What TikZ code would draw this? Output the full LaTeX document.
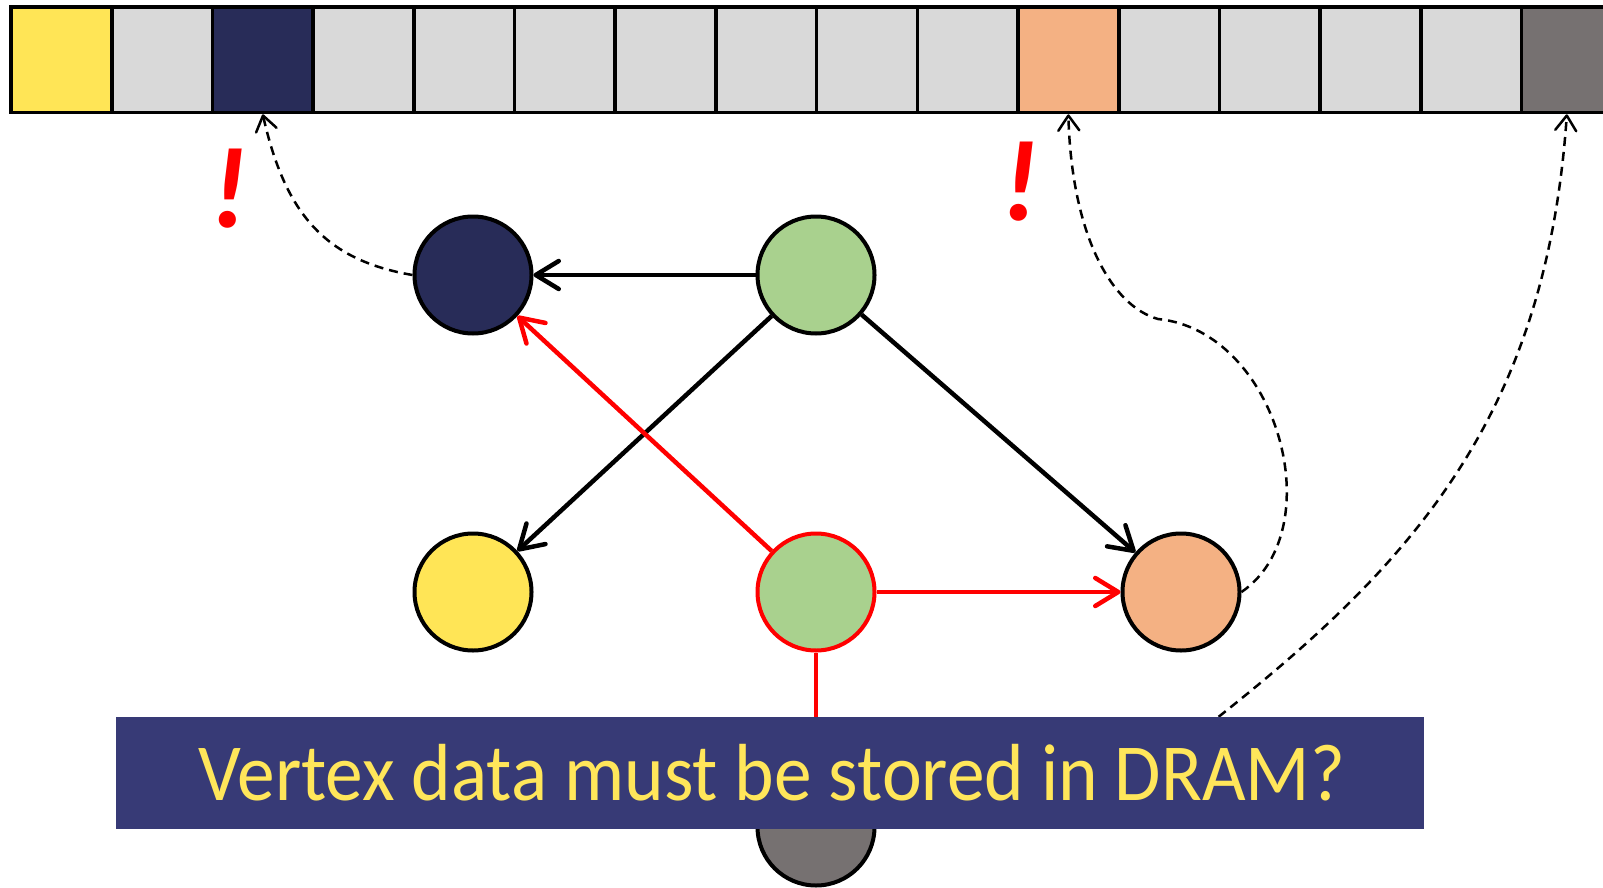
\documentclass[tikz,border=0pt]{standalone}
\usepackage{fontspec}
\setmainfont{Carlito}
\newfontfamily\bannerfont[FakeStretch=0.93]{Carlito}
\usetikzlibrary{arrows.meta}
\definecolor{vyellow}{HTML}{FFE556}
\definecolor{vnavy}{HTML}{282C58}
\definecolor{vgreen}{HTML}{A9D18E}
\definecolor{vorange}{HTML}{F4B183}
\definecolor{vgray}{HTML}{767171}
\definecolor{cellgray}{HTML}{D9D9D9}
\definecolor{bannerblue}{HTML}{373A76}
\definecolor{msgyellow}{HTML}{FFE65A}
\tikzset{
  cellbox/.style={draw=black, line width=3.6pt, minimum width=100.7pt,
    minimum height=105.5pt, inner sep=0pt, fill=cellgray},
  vert/.style={circle, draw=black, line width=4pt, minimum size=117pt, inner sep=0pt},
  edge/.style={line width=4.5pt, -{Straight Barb[length=23pt,width=28pt,round]}},
  ptr/.style={line width=2.5pt, dash pattern=on 9pt off 6pt,
    -{Straight Barb[length=15pt,width=21pt,round]}},
  bang/.style={anchor=base, text=red, inner sep=0pt,
    font=\fontsize{115}{120}\selectfont\bfseries\itshape}
}
\begin{document}
\begin{tikzpicture}[x=1pt,y=-1pt]
\useasboundingbox (0,0) rectangle (1603,888);

% memory array of vertex data
\foreach \i/\col in {1/vyellow,2/cellgray,3/vnavy,4/cellgray,5/cellgray,6/cellgray,
    7/cellgray,8/cellgray,9/cellgray,10/cellgray,11/vorange,12/cellgray,13/cellgray,
    14/cellgray,15/cellgray,16/vgray}
  \node[cellbox, fill=\col] (c\i) at ({11+100.7*(\i-0.5)}, 59.75) {};

% graph vertices
\node[vert, fill=vgray] (ngr) at (816,827) {};
\node[vert, fill=vnavy] (nv) at (473,275) {};
\node[vert, fill=vgreen] (g1) at (816,275) {};
\node[vert, fill=vyellow] (ny) at (473,592) {};
\node[vert, fill=vorange] (no) at (1181,592) {};
\node[vert, fill=vgreen, draw=red] (g2) at (816,592) {};

% graph edges
\draw[edge] (g1) -- (nv);
\draw[edge] (g1) -- (ny);
\draw[edge] (g1) -- (no);
\draw[edge, red] (g2) -- (nv);
\draw[edge, red] (g2) -- (no);
\draw[edge, red] (g2) -- (ngr);

% pointers from vertices to their slots in memory
\draw[ptr] (nv.west) .. controls (324,260) and (285,212.5) .. (c3.south);
\coordinate (bend) at (1158,319);
\draw[ptr] (no.east) .. controls (1332,530) and (1278,331) .. (bend)
  .. controls (1111.5,306) and (1071.6,235) .. (c11.south);
\coordinate (hid) at (1212,722);
\draw[ptr] (ngr.east) -- (hid) .. controls (1414,563) and (1546,416) .. ([xshift=-5pt]c16.south);

% conflict marks
\node[bang] (ex1) at (229,227) {!};
\node[bang] (ex2) at (1020,220) {!};

% question banner
\node[fill=bannerblue, minimum width=1308.5pt, minimum height=112pt, inner sep=0pt]
  (ban) at (769.75,773) {};
\node[anchor=base, text=msgyellow, inner sep=0pt, font=\bannerfont\fontsize{81}{90}\selectfont]
  (msg) at (772,800) {Vertex data must be stored in DRAM?};
\end{tikzpicture}
\end{document}
